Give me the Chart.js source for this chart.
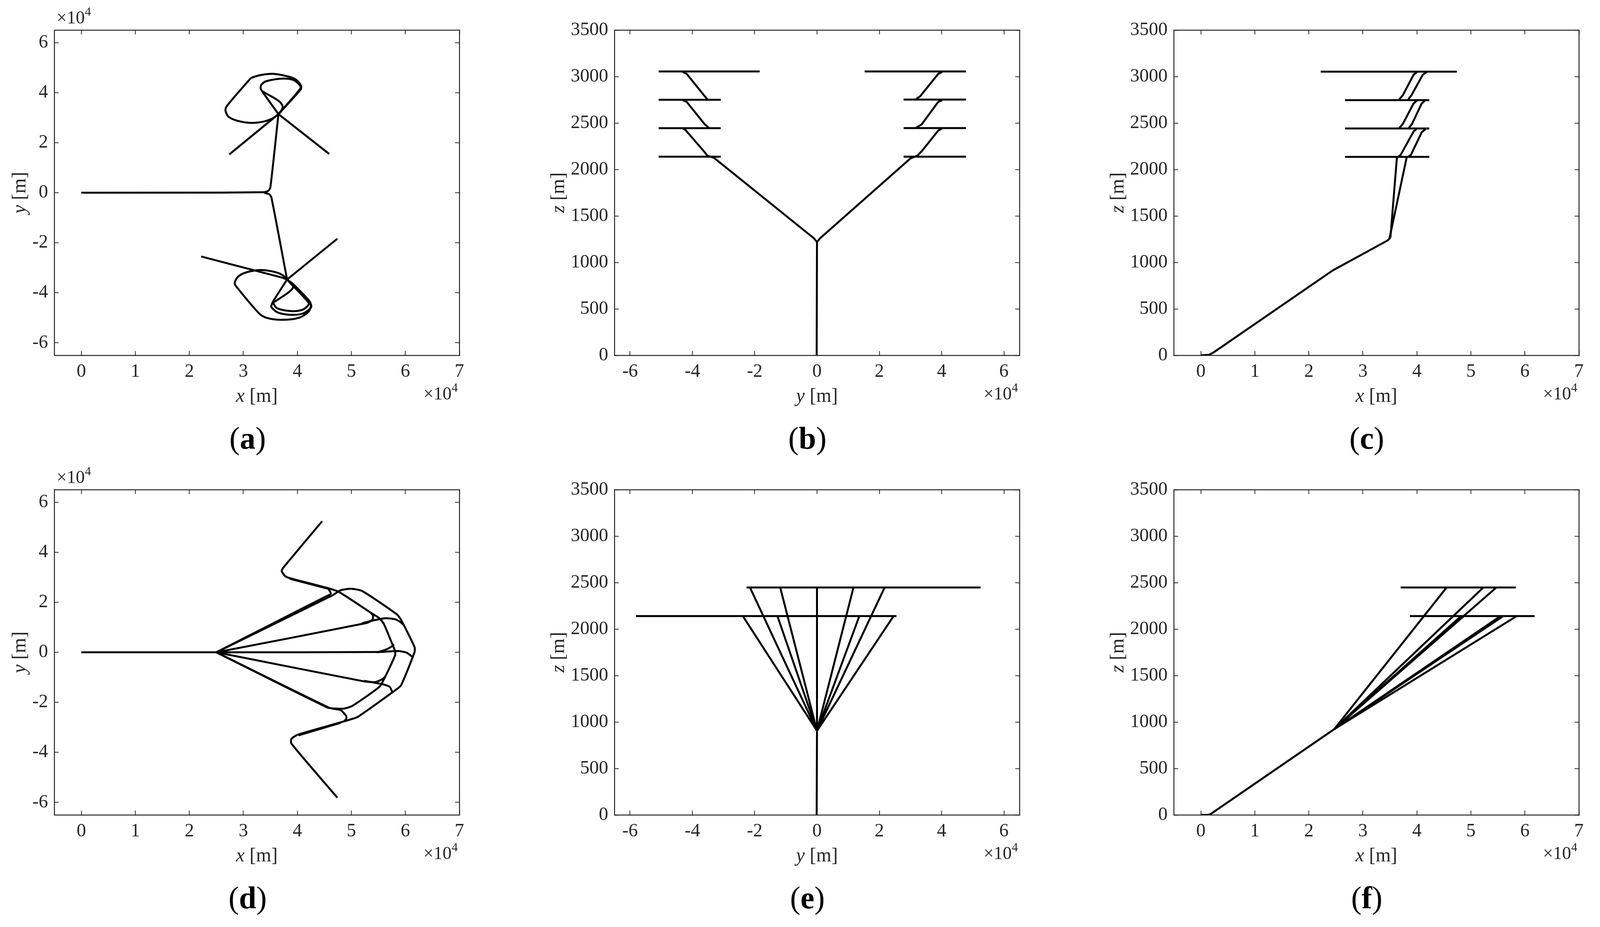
<!DOCTYPE html>
<html><head><meta charset="utf-8">
<style>html,body{margin:0;padding:0;background:#fff;width:100%;height:2374px;overflow:hidden}canvas{position:absolute}</style>
<script src="https://cdn.jsdelivr.net/npm/chart.js@4"></script>
</head><body>
<script>
const xTicks=[0,1,2,3,4,5,6,7];
const yTicks=[-6,-4,-2,0,2,4,6];
const zTicks=[0,500,1000,1500,2000,2500,3000,3500];

// (a) x-y, units of 1e4 m
const aStem=[[0,0],[2.6,0.005],[3.39,0.02]];
const aUpStem=[[3.39,0.02],[3.46,0.07],[3.5,0.2],[3.65,3.14]];
const aLowStem=[[3.39,-0.01],[3.48,-0.06],[3.52,-0.19],[3.81,-3.47]];
const aUpBig=[[3.65,3.14],[4.06,4.12],[4.07,4.26],[3.99,4.49],[3.87,4.62],[3.57,4.75],[3.34,4.71],[3.15,4.59],[3.09,4.46],[2.69,3.45],[2.67,3.27],[2.73,3.03],[2.9,2.87],[3.15,2.79],[3.39,2.85],[3.55,2.98],[3.65,3.14]];
const aUpSmall=[[3.65,3.14],[3.35,4.05],[3.32,4.18],[3.34,4.33],[3.43,4.46],[3.73,4.56],[3.92,4.51],[4.04,4.31],[4.06,4.18],[3.65,3.14]];
const aUpInner=[[3.35,4.05],[3.64,3.69],[3.72,3.5],[3.72,3.35],[3.65,3.14]];
const aUpEnds=[[2.74,1.53],[3.65,3.14],[4.59,1.55]];
const aLowBig=[[3.81,-3.47],[3.92,-3.65],[4.23,-4.35],[4.25,-4.53],[4.2,-4.77],[4.03,-5.0],[3.71,-5.08],[3.43,-5.0],[3.29,-4.82],[2.87,-3.75],[2.84,-3.6],[2.9,-3.36],[3.06,-3.18],[3.34,-3.09],[3.62,-3.19],[3.75,-3.33],[3.81,-3.47]];
const aLowMid=[[3.81,-3.47],[3.55,-4.35],[3.52,-4.51],[3.52,-4.58],[3.64,-4.79],[3.87,-4.88],[4.1,-4.83],[4.25,-4.6],[4.25,-4.46],[3.9,-3.68],[3.81,-3.47]];
const aLowSmall=[[3.55,-4.4],[3.62,-4.61],[3.87,-4.73],[4.08,-4.69],[4.19,-4.53],[4.21,-4.4],[3.81,-3.47]];
const aLowInner=[[3.55,-4.4],[3.82,-4.01],[3.91,-3.83],[3.92,-3.69],[3.81,-3.47]];
const aLowEnd1=[[2.22,-2.55],[3.57,-3.31],[3.73,-3.4],[3.81,-3.47]];
const aLowEnd2=[[3.81,-3.47],[4.74,-1.84]];

// (b) y-z
const bStem=[[-0.01,0],[0,1219]];
const bLeft=[[0,1219],[-0.1,1260],[-3.3,2124],[-3.52,2148],[-3.6,2184],[-4.22,2425],[-4.31,2442]];
const bLeft2=[[-3.47,2449],[-3.6,2485],[-4.18,2727],[-4.31,2746]];
const bLeft3=[[-3.52,2756],[-3.6,2787],[-4.18,3028],[-4.31,3050]];
const bRight=[[0,1219],[0.1,1260],[3.0,2119],[3.22,2148],[3.36,2196],[3.89,2418],[4.02,2442]];
const bRight2=[[3.18,2449],[3.36,2485],[3.89,2727],[4.02,2746]];
const bRight3=[[3.18,2758],[3.31,2787],[3.89,3028],[4.02,3050]];
const bLevels=[[[-5.08,3055],[-1.84,3055]],[[-5.08,2750],[-3.09,2750]],[[-5.08,2444],[-3.09,2444]],[[-5.08,2138],[-3.09,2138]],[[1.53,3055],[4.78,3055]],[[2.78,2752],[4.78,2752]],[[2.78,2445],[4.78,2445]],[[2.78,2138],[4.78,2138]]];

// (c) x-z
const cStem=[[0,0],[0.15,5],[0.23,29],[2.44,913],[3.46,1237],[3.51,1267]];
const cLeft=[[3.51,1267],[3.63,2127],[3.7,2157],[3.94,2410],[3.99,2434]];
const cLeft2=[[3.67,2443],[3.74,2490],[3.94,2711],[4.0,2740]];
const cLeft3=[[3.67,2752],[3.74,2799],[3.94,3020],[4.0,3047]];
const cRight=[[3.49,1250],[3.81,2127],[3.89,2157],[4.09,2401],[4.16,2434]];
const cRight2=[[3.85,2446],[3.91,2490],[4.09,2711],[4.15,2740]];
const cRight3=[[3.84,2755],[3.9,2799],[4.11,3020],[4.18,3047]];
const cLevels=[[[2.22,3053],[4.74,3053]],[[2.67,2746],[4.23,2746]],[[2.67,2441],[4.23,2441]],[[2.67,2135],[4.23,2135]]];

// (d) x-y
const dStem=[[0,0],[2.36,0],[2.5,0]];
const dLower=[[2.5,0],[4.59,-2.22],[4.7,-2.25],[4.86,-2.25],[5.02,-2.14],[5.52,-1.38],[5.61,-1.05],[5.81,-0.12],[5.81,0.04],[5.76,0.32],[5.6,1.14],[5.52,1.36],[5.39,1.54],[4.78,2.4],[4.57,2.56],[3.85,2.97],[3.77,3.05],[3.71,3.25],[3.74,3.38],[4.46,5.24]];
const dUpper=[[2.5,0],[4.56,2.18],[4.64,2.26],[4.8,2.48],[4.99,2.54],[5.2,2.45],[5.84,1.52],[5.92,1.3],[6.17,0.21],[6.17,0.01],[5.92,-1.32],[5.81,-1.52],[5.12,-2.58],[5.02,-2.66],[4.8,-2.8],[4.01,-3.29],[3.89,-3.46],[3.89,-3.65],[4.74,-5.81]];
const dStubA=[[2.5,0],[4.5,2.2],[4.62,2.34],[4.57,2.56]];
const dStubB=[[2.5,0],[5.28,1.17],[5.39,1.3],[5.4,1.47],[5.35,1.6]];
const dStubB2=[[5.2,1.16],[5.36,1.25],[5.63,1.36],[5.81,1.32],[5.92,1.19],[5.96,1.1]];
const dStubC=[[2.5,0],[5.47,0.01],[5.63,0.1],[5.73,0.21],[5.79,0.32]];
const dStubC2=[[5.47,0.0],[5.86,0.05],[6.02,-0.01],[6.13,-0.18]];
const dStubD=[[2.5,0],[5.23,-1.16],[5.44,-1.19],[5.57,-1.08],[5.63,-0.97]];
const dStubD2=[[5.23,-1.14],[5.57,-1.27],[5.71,-1.38],[5.76,-1.6]];
const dStubE=[[2.5,0],[4.55,-2.2],[4.8,-2.31],[4.9,-2.53],[4.91,-2.64],[4.87,-2.75]];
const dTail=[[4.8,-2.82],[4.02,-3.32]];
const dTail2=[[4.57,2.54],[3.86,2.94]];

// (e) y-z
const eStem=[[-0.01,0],[0,900]];
const eHub=[[0,925],[0,2447]];
const eTopEnds=[-2.15,-1.18,1.17,2.17];
const eLowEnds=[-2.38,-1.27,1.36,2.46];
const eTopLevel=[[-2.26,2447],[5.25,2447]];
const eLowLevel=[[-5.81,2140],[2.55,2140]];

// (f) x-z
const fStem=[[0,0],[0.13,0],[0.18,9],[2.47,923]];
const fTopEnds=[4.55,5.23,5.47];
const fLowEnds=[4.82,4.87,5.55,5.6,5.85];
const fTopLevel=[[3.7,2447],[5.83,2447]];
const fLowLevel=[[3.87,2140],[6.18,2140]];

const INK='#262626', LW=5;
const pts=a=>a.map(p=>({x:p[0],y:p[1]}));
const ds=(a,t)=>({data:pts(a),borderColor:'#000',backgroundColor:'#000',borderWidth:LW,pointRadius:0,showLine:true,tension:t||0,borderJoinStyle:'round',borderCapStyle:'butt',xAxisID:'x',yAxisID:'y'});

const L=200,T=77,PW=1037,PH=833,CW=1285,CH=1190;
const panels=[
 {cap:'a',left:-61,top:0,xn:'x',yn:'y',xr:[-0.5,7],yr:[-6.5,6.5],xt:xTicks,yt:yTicks,mult:'both',capX:695,ytitle:74,
  paths:[ds(aStem),ds(aUpStem,.2),ds(aLowStem,.2),ds(aUpBig,.3),ds(aUpSmall,.3),ds(aUpInner,.3),ds(aUpEnds),ds(aLowBig,.3),ds(aLowMid,.3),ds(aLowSmall,.3),ds(aLowInner,.3),ds(aLowEnd1),ds(aLowEnd2)]},
 {cap:'b',left:1373,top:0,xn:'y',yn:'z',xr:[-6.5,6.5],yr:[0,3500],xt:yTicks,yt:zTicks,mult:'x',capX:694,ytitle:129,
  paths:[ds(bStem),ds(bLeft),ds(bLeft2),ds(bLeft3),ds(bRight),ds(bRight2),ds(bRight3),...bLevels.map(l=>ds(l))]},
 {cap:'c',left:2805,top:0,xn:'x',yn:'z',xr:[-0.5,7],yr:[0,3500],xt:xTicks,yt:zTicks,mult:'x',capX:694,ytitle:129,
  paths:[ds(cStem),ds(cLeft),ds(cLeft2),ds(cLeft3),ds(cRight),ds(cRight2),ds(cRight3),...cLevels.map(l=>ds(l))]},
 {cap:'d',left:-61,top:1177,xn:'x',yn:'y',xr:[-0.5,7],yr:[-6.5,6.5],xt:xTicks,yt:yTicks,mult:'both',capX:695,ytitle:74,
  paths:[ds(dStem),ds(dLower,.2),ds(dUpper,.2),ds(dStubA,.2),ds(dStubB,.2),ds(dStubB2,.2),ds(dStubC,.2),ds(dStubC2,.2),ds(dStubD,.2),ds(dStubD2,.2),ds(dStubE,.2),ds(dTail),ds(dTail2)]},
 {cap:'e',left:1373,top:1177,xn:'y',yn:'z',xr:[-6.5,6.5],yr:[0,3500],xt:yTicks,yt:zTicks,mult:'x',capX:694,ytitle:129,
  paths:[ds(eStem),ds(eHub),...eTopEnds.map(v=>ds([[0,905],[v,2447]])),...eLowEnds.map(v=>ds([[0,905],[v,2140]])),ds(eTopLevel),ds(eLowLevel)]},
 {cap:'f',left:2805,top:1177,xn:'x',yn:'z',xr:[-0.5,7],yr:[0,3500],xt:xTicks,yt:zTicks,mult:'x',capX:694,ytitle:129,
  paths:[ds(fStem),...fTopEnds.map(v=>ds([[2.47,923],[v,2447]])),...fLowEnds.map(v=>ds([[2.47,923],[v,2140]])),ds(fTopLevel),ds(fLowLevel)]}
];

const SERIF='"Liberation Serif"';
function runs(ctx,list,x,y,align){
  let total=0;
  list.forEach(r=>{ctx.font=r.font;total+=ctx.measureText(r.t).width;});
  let cx=align==='center'?x-total/2:x;
  list.forEach(r=>{ctx.font=r.font;ctx.fillStyle=r.c||INK;ctx.fillText(r.t,cx,y+(r.dy||0));cx+=ctx.measureText(r.t).width;});
}
const textPlugin={id:'panelText',afterDraw(chart,args,o){
  const c=chart.ctx,a=chart.chartArea,p=o.p;
  c.save();c.textBaseline='alphabetic';c.textAlign='left';
  const R='50px '+SERIF,I='italic 50px '+SERIF;
  runs(c,[{t:p.xn,font:I},{t:' [m]',font:R}],(a.left+a.right)/2,a.bottom+119,'center');
  c.save();c.translate(a.left-p.ytitle,(a.top+a.bottom)/2);c.rotate(-Math.PI/2);
  runs(c,[{t:p.yn,font:I},{t:' [m]',font:R}],0,0,'center');c.restore();
  const mul=(x,y)=>runs(c,[{t:'×10',font:'46px '+SERIF},{t:'4',font:'32px '+SERIF,dy:-20}],x,y,'left');
  mul(a.right-92,a.bottom+113);
  if(p.mult==='both')mul(a.left+6,a.top-17);
  runs(c,[{t:'(',font:'80px '+SERIF,c:'#000'},{t:p.cap,font:'bold 80px '+SERIF,c:'#000'},{t:')',font:'80px '+SERIF,c:'#000'}],p.capX,a.bottom+239,'center');
  c.restore();
}};

panels.forEach(p=>{
  const cv=document.createElement('canvas');
  cv.style.left=p.left+'px';cv.style.top=p.top+'px';cv.style.width=CW+'px';cv.style.height=CH+'px';
  cv.width=CW;cv.height=CH;document.body.appendChild(cv);
  const tickSet=list=>s=>{s.ticks=list.map(v=>({value:v}));};
  const base={grid:{display:true,drawOnChartArea:false,drawTicks:true,tickLength:-11,tickWidth:2,tickColor:INK,color:INK},border:{display:true,color:INK,width:2.5}};
  new Chart(cv,{type:'scatter',plugins:[textPlugin],
    data:{datasets:p.paths},
    options:{responsive:false,animation:false,devicePixelRatio:1,
      layout:{padding:{left:0,top:T,right:CW-L-PW,bottom:CH-T-PH-100}},
      plugins:{legend:{display:false},tooltip:{enabled:false},panelText:{p}},
      scales:{
        x:{...base,type:'linear',position:'bottom',min:p.xr[0],max:p.xr[1],afterBuildTicks:tickSet(p.xt),afterFit:s=>{s.height=100;},
           ticks:{color:INK,font:{family:SERIF,size:48},padding:25,maxRotation:0,autoSkip:false,includeBounds:false,callback:v=>String(v)}},
        y:{...base,type:'linear',position:'left',min:p.yr[0],max:p.yr[1],afterBuildTicks:tickSet(p.yt),afterFit:s=>{s.width=L;},
           ticks:{color:INK,font:{family:SERIF,size:48},padding:27,autoSkip:false,includeBounds:false,callback:v=>String(v)}},
        x2:{...base,type:'linear',position:'top',min:p.xr[0],max:p.xr[1],afterBuildTicks:tickSet(p.xt),afterFit:s=>{s.height=0;},ticks:{display:false}},
        y2:{...base,type:'linear',position:'right',min:p.yr[0],max:p.yr[1],afterBuildTicks:tickSet(p.yt),afterFit:s=>{s.width=0;},ticks:{display:false}}
      }}});
});
</script>
</body></html>
